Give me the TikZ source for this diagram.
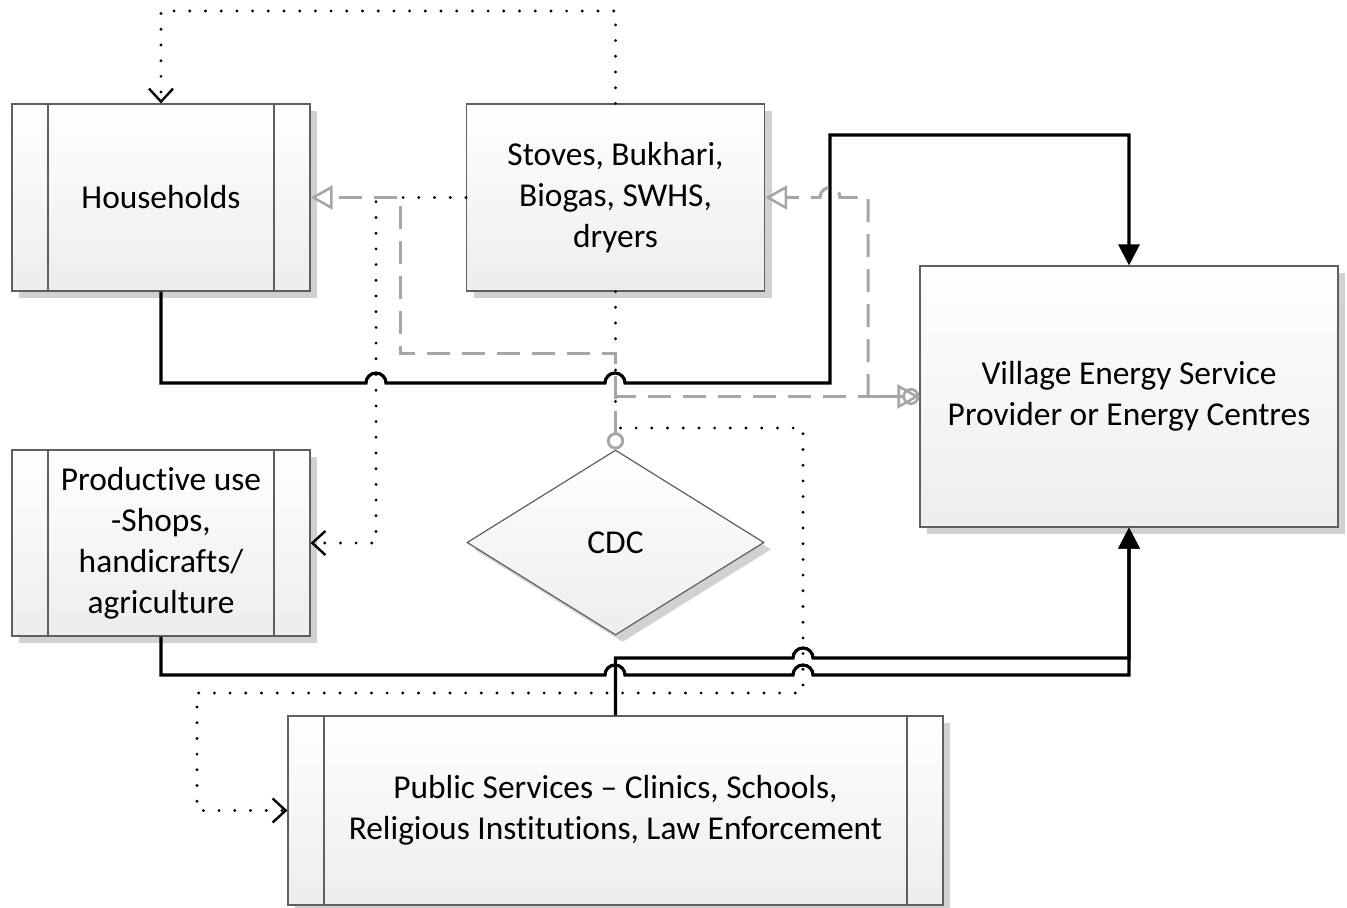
\documentclass[tikz,border=0pt]{standalone}
\usepackage{fontspec}
\setmainfont{Carlito}[Ligatures=NoCommon]
\usetikzlibrary{arrows.meta,shapes.geometric,shadows}
\definecolor{linegray}{HTML}{A6A6A6}
\definecolor{boxline}{HTML}{5F5F5F}
\begin{document}
\begin{tikzpicture}[x=0.5pt,y=-0.5pt,
  box/.style={draw=boxline, line width=0.6pt, top color=white, bottom color=black!7,
    drop shadow={shadow xshift=3.5pt,shadow yshift=-3.5pt,fill=black!18,opacity=1},
    align=center, inner sep=0pt, font=\fontsize{16.7pt}{20.5pt}\selectfont},
  subbox/.style={box, path picture={\draw[boxline,line width=0.6pt]
    ([xshift=18pt]path picture bounding box.north west) -- ([xshift=18pt]path picture bounding box.south west)
    ([xshift=-18pt]path picture bounding box.north east) -- ([xshift=-18pt]path picture bounding box.south east);}},
  blk/.style={line width=1.6pt, black},
  gry/.style={draw=linegray, line width=1.5pt, dash pattern=on 11.5pt off 6pt},
  dotl/.style={line width=1.6pt, line cap=round, dash pattern=on 0pt off 7.85pt},
  ftri/.tip={Triangle[length=10.5pt,width=10.5pt]},
  otri/.tip={Triangle[open,length=11pt,width=12pt,line width=1.3pt]},
  barb/.tip={Straight Barb[length=6.5pt,width=12pt,line width=1.2pt]},
  circ/.tip={Circle[open,length=8.5pt,line width=1.3pt]}
]
\useasboundingbox (0,0) rectangle (1347,908);

% nodes
\node[subbox, minimum width=149pt, minimum height=93.5pt] (hh) at (161,197.5) {Households};
\node[box, minimum width=149pt, minimum height=93.5pt] (st) at (615.5,197.5) {Stoves, Bukhari,\\Biogas, SWHS,\\dryers};
\node[box, minimum width=209pt, minimum height=130.5pt] (ves) at (1129,396.5) {Village Energy Service\\Provider or Energy Centres};
\node[subbox, minimum width=149pt, minimum height=93pt] (pu) at (161,543) {Productive use\\-Shops,\\handicrafts/\\agriculture};
\node[subbox, minimum width=327.5pt, minimum height=94.5pt] (ps) at (615.5,810.5) {Public Services – Clinics, Schools,\\Religious Institutions, Law Enforcement};
\node[box, diamond, aspect=1.6, minimum width=148.5pt, minimum height=92.5pt] (cdc) at (615.5,542.5) {CDC};

% solid black connectors
\draw[blk, -{ftri}] (hh.south) -- (161,383) -- (366,383) arc[start angle=180,end angle=360,radius=10]
  -- (605,383) arc[start angle=180,end angle=360,radius=10] -- (830,383) -- (830,135) -| (ves.north);
\draw[blk, -{ftri}] (pu.south) -- (161,675) -- (605,675) arc[start angle=180,end angle=360,radius=10]
  -- (793,675) arc[start angle=180,end angle=360,radius=10] -- (1129,675) -- (ves.south);
\draw[blk, -{ftri}] (ps.north) -- (615.5,658) -- (793,658) arc[start angle=180,end angle=360,radius=10]
  -- (1129,658) -- (ves.south);

% dotted connectors
\draw[dotl, -{barb}] (st.north) -- (615.5,11) -| (hh.north);
\draw[dotl, -{barb}] (st.west) -- (376,197.5) |- (pu.east);
\draw[dotl, -{barb}] (st.south) -- (615.5,428) -- (803,428) -- (803,693) -- (197,693) |- (ps.west);

% gray dashed connectors
\draw[gry, {circ}-{otri}] (cdc.north) -- (615.5,354) -- (400,354) -- (400,197.5) -- (hh.east);
\draw[gry, {circ}-{otri}] (cdc.north) |- (ves.west);
\draw[gry, {circ}-{otri}] (ves.west) -- (868,396.5) -- (868,197.5) -- (840,197.5)
  arc[start angle=0,end angle=-180,radius=10] -- (st.east);
\end{tikzpicture}
\end{document}
